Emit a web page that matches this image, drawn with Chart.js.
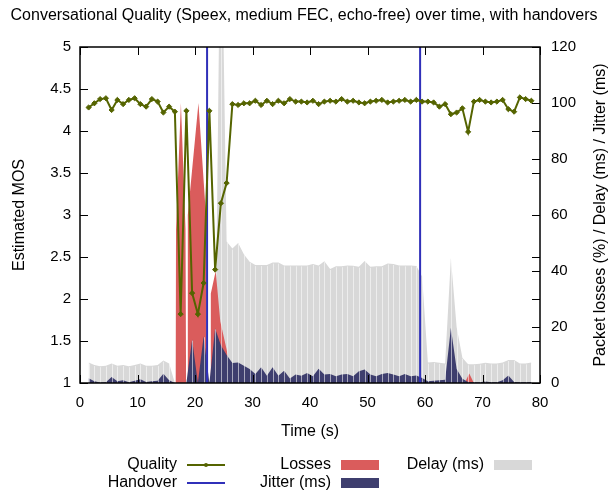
<!DOCTYPE html>
<html>
<head>
<meta charset="utf-8">
<script src="https://cdn.jsdelivr.net/npm/chart.js@4.4.1/dist/chart.umd.min.js"></script>
<style>
html, body { margin: 0; padding: 0; background: #fff; }
</style>
</head>
<body>
<canvas id="chartjs-0" width="608" height="490"></canvas>
<script>
"use strict";

// time of each sample (s)
var TIME = [1.5, 2.5, 3.5, 4.5, 5.5, 6.5, 7.5, 8.5, 9.5, 10.5, 11.5, 12.5, 13.5, 14.5, 15.5, 16.5,
    17.5, 18.5, 19.5, 20.5, 21.5, 22.5, 23.5, 24.5, 25.5, 26.5, 27.5, 28.5, 29.5, 30.5, 31.5, 32.5,
    33.5, 34.5, 35.5, 36.5, 37.5, 38.5, 39.5, 40.5, 41.5, 42.5, 43.5, 44.5, 45.5, 46.5, 47.5, 48.5,
    49.5, 50.5, 51.5, 52.5, 53.5, 54.5, 55.5, 56.5, 57.5, 58.5, 59.5, 60.5, 61.5, 62.5, 63.5, 64.5,
    65.5, 66.5, 67.5, 68.5, 69.5, 70.5, 71.5, 72.5, 73.5, 74.5, 75.5, 76.5, 77.5, 78.5];

// estimated MOS
var QUALITY = [4.28, 4.33, 4.38, 4.39, 4.25, 4.37, 4.32, 4.37, 4.39, 4.32, 4.29, 4.38, 4.35, 4.22, 4.29, 4.23,
    1.82, 4.24, 2.07, 1.82, 2.19, 4.24, 2.35, 3.14, 3.38,
    4.32, 4.31, 4.33, 4.33, 4.36, 4.31, 4.36, 4.32, 4.36, 4.33, 4.38, 4.35,
    4.35, 4.34, 4.36, 4.32, 4.35, 4.36, 4.35, 4.38, 4.35, 4.36, 4.34, 4.33, 4.35, 4.36, 4.37, 4.34,
    4.35, 4.36, 4.37, 4.35, 4.37, 4.35, 4.35, 4.34, 4.29, 4.32, 4.20, 4.22, 4.27, 3.99, 4.35, 4.37,
    4.35, 4.34, 4.35, 4.37, 4.26, 4.23, 4.40, 4.38, 4.36];

// delay (ms)
var DELAY = [7.3, 6.4, 6.0, 6.2, 7.0, 6.2, 6.4, 6.0, 6.4, 7.0, 6.2, 6.2, 6.4, 8.0, 7.0,
    0, 0, 0, 0, 0, 0, 0, 0,
    185, 50.5, 48, 50, 46, 43.3, 42.1, 42.1, 42.1, 43, 43, 42, 42, 42, 42, 42, 42.5, 42,
    43.5, 40.7, 41.7, 41.7, 42, 41.9, 41.5, 43.6, 41.5, 41.7, 41.7, 42.7, 42.5, 42, 42, 42, 41.8,
    38, 7.3, 7.5, 7.2, 7.0, 44.6, 20, 9, 6.7, 6.7, 6.9, 7.2, 7.0, 7.0, 7.3, 8.2, 8.2, 7.0, 7.0, 7.3];

// jitter (ms)
var JITTER = [1.7, 0.6, 0.2, 0.3, 2.1, 0.6, 1.0, 0.3, 0.8, 1.3, 0.4, 0.6, 0.8, 3.3, 1.0, 0,
    0, 0, 15.5, 0, 16.7, 0, 19.5, 13.5, 10, 7.1, 7.3, 6.2, 5.0, 3.2, 5.6, 2.6,
    5.6, 2.6, 4.4, 1.6, 3.0, 2.6, 3.6, 2.4, 5.1, 3.0, 3.2, 2.4, 3.0, 3.2, 2.4, 4.2,
    4.8, 3.0, 2.4, 3.2, 3.6, 3.0, 2.4, 3.2, 2.4, 2.7, 1.8, 0.6, 0.8, 1.0, 1.2, 19.6,
    5, 1.5, 0.4, 0.3, 0.3, 0.5, 0.3, 0.3, 1.0, 2.7, 0.4, 0.3, 0.3, 0.4];

// packet losses (%)
var LOSS_TIME = [16.6, 16.7, 17.55, 18.35, 18.45, 18.65, 18.75, 20.6, 21.9, 22.0,
    22.65, 22.75, 23.6, 24.4, 25.5, 26.5, 66.9, 67.7, 68.5];
var LOSS_VALUE = [0, 55, 100, 55, 0, 0, 60, 100, 60, 0,
    0, 32, 40, 22, 12, 0, 0, 3.4, 0];

// handover instants (s)
var HANDOVERS = [22.1, 59.15];

var FONT = "'Liberation Sans', Arial, sans-serif";

function pts(xs, ys) {
    return xs.map(function (x, i) { return {x: x, y: ys[i]}; });
}

var handoverPts = [];
HANDOVERS.forEach(function (h, i) {
    if (i > 0) handoverPts.push({x: h, y: null});
    handoverPts.push({x: h, y: 1});
    handoverPts.push({x: h, y: 5});
});

// faint seams between the filled polygons (gnuplot look), drawn before the lines
var seamPlugin = {
    id: "seams",
    beforeDatasetDraw: function (chart, args) {
        if (args.index !== 1) return;
        var ctx = chart.ctx, a = chart.chartArea, y2 = chart.scales.y2, x = chart.scales.x;
        ctx.save();
        ctx.beginPath();
        ctx.rect(a.left, a.top, a.right - a.left, a.bottom - a.top);
        ctx.clip();
        ctx.strokeStyle = "rgba(255,255,255,0.55)";
        ctx.lineWidth = 1;
        ctx.beginPath();
        TIME.forEach(function (t, i) {
            var top = Math.max(DELAY[i], JITTER[i]);
            if (top <= 0) return;
            var p = Math.round(x.getPixelForValue(t)) + 0.5;
            ctx.moveTo(p, y2.getPixelForValue(0));
            ctx.lineTo(p, y2.getPixelForValue(top) + 1);
        });
        ctx.stroke();
        ctx.restore();
    }
};

// inward gnuplot-style tics and border
var framePlugin = {
    id: "frame",
    afterDatasetsDraw: function (chart) {
        var ctx = chart.ctx, a = chart.chartArea, s = chart.scales;
        var L = 8;
        ctx.save();
        ctx.strokeStyle = "#000";
        ctx.lineWidth = 1;
        ctx.beginPath();
        s.x.ticks.forEach(function (t) {
            var p = Math.round(s.x.getPixelForValue(t.value)) + 0.5;
            ctx.moveTo(p, a.bottom); ctx.lineTo(p, a.bottom - L);
            ctx.moveTo(p, a.top); ctx.lineTo(p, a.top + L);
        });
        s.y.ticks.forEach(function (t) {
            var p = Math.round(s.y.getPixelForValue(t.value)) + 0.5;
            ctx.moveTo(a.left, p); ctx.lineTo(a.left + L, p);
            ctx.moveTo(a.right, p); ctx.lineTo(a.right - L, p);
        });
        s.y2.ticks.forEach(function (t) {
            var p = Math.round(s.y2.getPixelForValue(t.value)) + 0.5;
            ctx.moveTo(a.right, p); ctx.lineTo(a.right - L, p);
        });
        ctx.stroke();
        ctx.lineWidth = 1.5;
        ctx.strokeRect(a.left, a.top, a.right - a.left, a.bottom - a.top);

        // right axis title, reading upwards
        ctx.fillStyle = "#000";
        ctx.font = "16px " + FONT;
        ctx.textAlign = "center";
        ctx.textBaseline = "middle";
        ctx.translate(601, (a.top + a.bottom) / 2);
        ctx.rotate(-Math.PI / 2);
        ctx.fillText("Packet losses (%) / Delay (ms) / Jitter (ms)", 0, 0);
        ctx.restore();
    }
};

// key at the bottom: text right aligned, sample on the right
var KEY = [
    {ds: 0, tx: 177, y: 465, kind: "line"},
    {ds: 1, tx: 177, y: 483, kind: "line"},
    {ds: 3, tx: 331, y: 465, kind: "box"},
    {ds: 2, tx: 331, y: 483, kind: "box"},
    {ds: 4, tx: 484, y: 465, kind: "box"}
];

var keyPlugin = {
    id: "gpkey",
    afterDraw: function (chart) {
        var ctx = chart.ctx;
        ctx.save();
        ctx.font = "16px " + FONT;
        ctx.textAlign = "right";
        ctx.textBaseline = "middle";
        KEY.forEach(function (k) {
            var ds = chart.data.datasets[k.ds];
            ctx.fillStyle = "#000";
            ctx.fillText(ds.label, k.tx, k.y);
            var x0 = k.tx + 10, w = 38;
            if (k.kind === "line") {
                ctx.strokeStyle = ds.borderColor;
                ctx.lineWidth = 2;
                ctx.beginPath();
                ctx.moveTo(x0, k.y); ctx.lineTo(x0 + w, k.y);
                ctx.stroke();
                if (ds.pointRadius) {
                    ctx.fillStyle = ds.borderColor;
                    ctx.beginPath();
                    ctx.arc(x0 + w / 2, k.y, 2, 0, Math.PI * 2);
                    ctx.fill();
                }
            } else {
                ctx.fillStyle = ds.backgroundColor;
                ctx.fillRect(x0, k.y - 5, w, 10);
            }
        });
        ctx.restore();
    }
};

Chart.defaults.font.family = FONT;
Chart.defaults.font.size = 15;
Chart.defaults.color = "#000";

var ctx0 = document.getElementById("chartjs-0");
var myChart = new Chart(ctx0, {
    type: "line",
    data: {
        datasets: [
            {
                label: "Quality",
                data: pts(TIME, QUALITY),
                yAxisID: "y",
                borderColor: "rgb(85,100,0)",
                backgroundColor: "rgb(85,100,0)",
                borderWidth: 2,
                pointStyle: "rectRot",
                pointRadius: 2.6,
                pointBorderWidth: 1,
                fill: false,
                tension: 0
            },
            {
                label: "Handover",
                data: handoverPts,
                yAxisID: "y",
                borderColor: "rgb(48,48,185)",
                borderWidth: 2,
                pointRadius: 0,
                spanGaps: false,
                fill: false
            },
            {
                label: "Jitter (ms)",
                data: pts(TIME, JITTER),
                yAxisID: "y2",
                backgroundColor: "rgb(62,62,110)",
                borderColor: "rgb(62,62,110)",
                borderWidth: 0,
                pointRadius: 0,
                fill: "origin",
                tension: 0
            },
            {
                label: "Losses",
                data: pts(LOSS_TIME, LOSS_VALUE),
                yAxisID: "y2",
                backgroundColor: "rgb(218,92,92)",
                borderColor: "rgb(218,92,92)",
                borderWidth: 0,
                pointRadius: 0,
                fill: "origin",
                tension: 0
            },
            {
                label: "Delay (ms)",
                data: pts(TIME, DELAY),
                yAxisID: "y2",
                backgroundColor: "rgb(216,216,216)",
                borderColor: "rgb(216,216,216)",
                borderWidth: 0,
                pointRadius: 0,
                fill: "origin",
                tension: 0
            }
        ]
    },
    options: {
        responsive: false,
        animation: false,
        layout: {padding: 0},
        plugins: {
            legend: {display: false},
            tooltip: {enabled: false},
            title: {
                display: true,
                text: "Conversational Quality (Speex, medium FEC, echo-free) over time, with handovers",
                font: {size: 16, weight: "normal"},
                color: "#000",
                padding: {top: 6, bottom: 21.8}
            }
        },
        scales: {
            x: {
                type: "linear",
                min: 0, max: 80,
                ticks: {stepSize: 10, padding: 11},
                grid: {display: false, drawTicks: false},
                border: {display: false},
                title: {display: true, text: "Time (s)", font: {size: 16}, padding: {top: 0, bottom: 48.4}},
                afterFit: function (s) { s.height = 107; }
            },
            y: {
                position: "left",
                min: 1, max: 5,
                ticks: {stepSize: 0.5, padding: 9, callback: function (v) { return String(+v.toFixed(1)); }},
                grid: {display: false, drawTicks: false},
                border: {display: false},
                title: {display: true, text: "Estimated MOS", font: {size: 16}, padding: {top: 10.4, bottom: 0}},
                afterFit: function (s) { s.width = 80; }
            },
            y2: {
                position: "right",
                min: 0, max: 120,
                ticks: {stepSize: 20, padding: 11},
                grid: {display: false, drawTicks: false},
                border: {display: false},
                afterFit: function (s) { s.width = 68; }
            }
        }
    },
    plugins: [seamPlugin, framePlugin, keyPlugin]
});
</script>
</body>
</html>
